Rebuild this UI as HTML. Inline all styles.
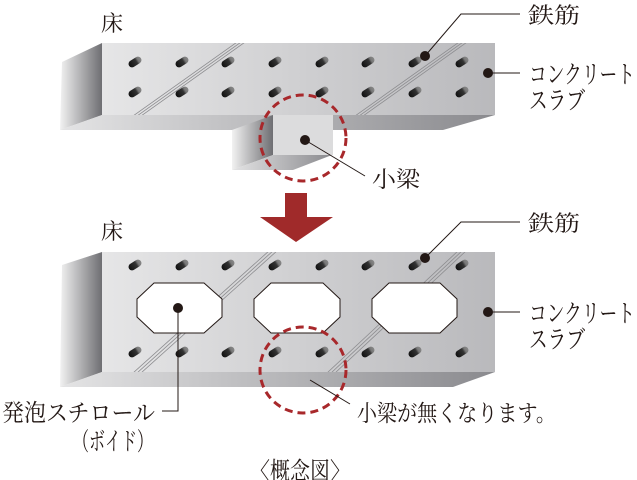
<!DOCTYPE html>
<html><head><meta charset="utf-8"><style>
html,body{margin:0;padding:0;background:#fff;width:637px;height:480px;overflow:hidden}
svg text{font-family:"Liberation Serif","Noto Serif CJK SC",serif;fill:#231815}
</style></head><body>
<svg width="637" height="480" viewBox="0 0 637 480" xmlns="http://www.w3.org/2000/svg">
<defs>
<linearGradient id="front" x1="0" x2="1" y1="0" y2="0"><stop offset="0" stop-color="#e6e6e7"/><stop offset="1" stop-color="#b9b9bc"/></linearGradient>
<linearGradient id="side" x1="0" x2="1" y1="0" y2="0"><stop offset="0" stop-color="#f2f2f2"/><stop offset="1" stop-color="#6e6e72"/></linearGradient>
<linearGradient id="bottom" x1="0" x2="1" y1="0" y2="0"><stop offset="0" stop-color="#e4e4e5"/><stop offset="1" stop-color="#8a8a8e"/></linearGradient>
<linearGradient id="hole" x1="0" x2="1"><stop offset="0" stop-color="#111"/><stop offset="0.6" stop-color="#333"/><stop offset="0.75" stop-color="#777"/><stop offset="1" stop-color="#888"/></linearGradient>
<g id="h"><rect x="-7" y="-3.5" width="14" height="7" rx="3.5" fill="url(#hole)" transform="rotate(-32)"/></g>
<clipPath id="c1"><rect x="102" y="43" width="393" height="72"/></clipPath>
<clipPath id="c2"><rect x="102" y="252" width="393" height="120"/></clipPath>
</defs>
<polygon points="62,62 102,43 102,115 60,130" fill="url(#side)"/>
<polygon points="102,115 495,115 443,130 60,130" fill="url(#bottom)"/>
<rect x="102" y="43" width="393" height="72" fill="url(#front)"/>
<g clip-path="url(#c1)" stroke="#8d8d90" stroke-width="0.8" fill="none">
<path d="M133,116 L240,40 M137,116 L244,40 M141,116 L248,40"/>
<path d="M355,116 L462,40 M359,116 L466,40 M363,116 L470,40"/>
</g>
<polygon points="232,130 273,115 273,155 232,170" fill="url(#side)"/>
<polygon points="232,170 293,170 332,155 273,155" fill="url(#bottom)"/>
<rect x="273" y="115" width="60" height="40" fill="#dcdcdd"/>
<g>
<use href="#h" x="135" y="62"/><use href="#h" x="182" y="62"/><use href="#h" x="228" y="62"/><use href="#h" x="275" y="62"/><use href="#h" x="322" y="62"/><use href="#h" x="368" y="62"/><use href="#h" x="415" y="62"/><use href="#h" x="462" y="62"/>
<use href="#h" x="135" y="92"/><use href="#h" x="182" y="92"/><use href="#h" x="228" y="92"/><use href="#h" x="275" y="92"/><use href="#h" x="322" y="92"/><use href="#h" x="368" y="92"/><use href="#h" x="415" y="92"/><use href="#h" x="462" y="92"/>
</g>
<circle cx="303" cy="138" r="43" fill="none" stroke="#a8282b" stroke-width="3" stroke-dasharray="8,5"/>
<polygon points="285,193 307,193 307,217 333,217 296,242 260,217 285,217" fill="#a02a2a"/>
<polygon points="62,265 102,252 102,372 60,387" fill="url(#side)"/>
<polygon points="102,372 495,372 453,387 60,387" fill="url(#bottom)"/>
<rect x="102" y="252" width="393" height="120" fill="url(#front)"/>
<g clip-path="url(#c2)" stroke="#8d8d90" stroke-width="0.8" fill="none">
<path d="M133,373 L270,250 M137,373 L274,250 M141,373 L278,250"/>
<path d="M327,373 L459,250 M331,373 L463,250 M335,373 L467,250"/>
</g>
<g fill="#fff" stroke="#231815" stroke-width="1">
<polygon points="154,283 204,283 222,299 222,317 204,333 154,333 137,317 137,299"/>
<polygon points="271,283 323,283 340,299 340,317 323,333 271,333 254,317 254,299"/>
<polygon points="389,283 440,283 457,299 457,317 440,333 389,333 372,317 372,299"/>
</g>
<g>
<use href="#h" x="135" y="265"/><use href="#h" x="182" y="265"/><use href="#h" x="228" y="265"/><use href="#h" x="275" y="265"/><use href="#h" x="322" y="265"/><use href="#h" x="368" y="265"/><use href="#h" x="415" y="265"/><use href="#h" x="462" y="265"/>
<use href="#h" x="135" y="352"/><use href="#h" x="182" y="352"/><use href="#h" x="228" y="352"/><use href="#h" x="275" y="352"/><use href="#h" x="322" y="352"/><use href="#h" x="368" y="352"/><use href="#h" x="415" y="352"/><use href="#h" x="462" y="352"/>
</g>
<circle cx="303" cy="370" r="43" fill="none" stroke="#a8282b" stroke-width="3" stroke-dasharray="8,5"/>
<g stroke="#231815" stroke-width="1" fill="none">
<path d="M425,56 L461,14 L520,14"/>
<path d="M488,73 L520,73"/>
<path d="M305,140 L365,176"/>
<path d="M425,258 L461,222 L520,222"/>
<path d="M488,312 L520,312"/>
<path d="M178,308 L178,411 L162,411"/>
<path d="M310,380 L350,404"/>
</g>
<g fill="#231815">
<circle cx="425" cy="56" r="5"/><circle cx="488" cy="73" r="5"/><circle cx="305" cy="140" r="5"/>
<circle cx="425" cy="258" r="5"/><circle cx="488" cy="312" r="5"/><circle cx="178" cy="308" r="5"/>
</g>
<g font-size="22">
<text x="101" y="31">床</text>
<text x="101" y="239">床</text>
<text x="528" y="23" textLength="52" lengthAdjust="spacingAndGlyphs">鉄筋</text>
<text x="528" y="231" textLength="52" lengthAdjust="spacingAndGlyphs">鉄筋</text>
<text x="529" y="83" font-size="25" textLength="106" lengthAdjust="spacingAndGlyphs">コンクリート</text>
<text x="529" y="109" font-size="25" textLength="56" lengthAdjust="spacingAndGlyphs">スラブ</text>
<text x="529" y="322" font-size="25" textLength="106" lengthAdjust="spacingAndGlyphs">コンクリート</text>
<text x="529" y="348" font-size="25" textLength="56" lengthAdjust="spacingAndGlyphs">スラブ</text>
<text x="372" y="187" textLength="48" lengthAdjust="spacingAndGlyphs">小梁</text>
<text x="2" y="421" font-size="24" textLength="153" lengthAdjust="spacingAndGlyphs">発泡スチロール</text>
<text x="73" y="450" font-size="25" textLength="80" lengthAdjust="spacingAndGlyphs">（ボイド）</text>
<text x="357" y="421" font-size="23" textLength="199" lengthAdjust="spacingAndGlyphs">小梁が無くなります。</text>
<text x="250" y="479" font-size="24" textLength="100" lengthAdjust="spacingAndGlyphs">〈概念図〉</text>
</g>
</svg>
</body></html>
